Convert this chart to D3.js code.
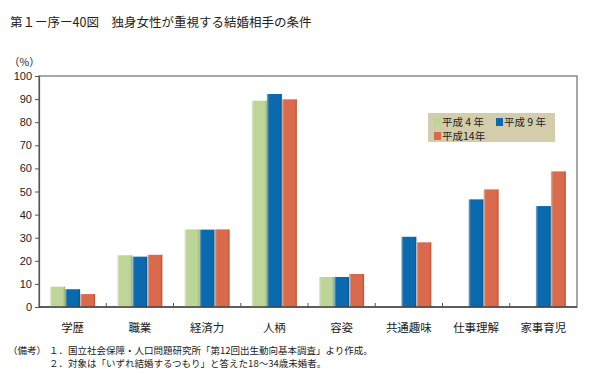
<!DOCTYPE html>
<html>
<head>
<meta charset="utf-8">
<script src="https://cdn.jsdelivr.net/npm/d3@7"></script>
<style>
body { margin: 0; background: #fff; }
text { font-family: "Noto Sans CJK JP", "Noto Sans", sans-serif; fill: #222; }
</style>
</head>
<body>
<div id="container"></div>
<script>
/* DATA */
const categories = ["学歴", "職業", "経済力", "人柄", "容姿", "共通趣味", "仕事理解", "家事育児"]
const seriesNames = ["平成 4 年", "平成 9 年", "平成14年"]
const h4 = [8.8, 22.4, 33.6, 89.3, 13.0, null, null, null]
const h9 = [7.7, 21.8, 33.5, 92.2, 13.0, 30.4, 46.6, 43.7]
const h14 = [5.6, 22.6, 33.6, 89.9, 14.3, 28.0, 50.9, 58.7]
const yTicks = [0, 10, 20, 30, 40, 50, 60, 70, 80, 90, 100]
const colors = ["#bdd597", "#0a6aad", "#d96b4c"]

/* CONSTANTS */
const width = 590, height = 375
const margin = { top: 76, bottom: 68, left: 39, right: 13 }

const svg = d3.select("#container")
  .append("svg")
  .attr("width", width)
  .attr("height", height)

// gradients so bars look a bit 3d
const defs = svg.append("defs")
colors.forEach((c, i) => {
  const g = defs.append("linearGradient")
    .attr("id", "grad" + i)
    .attr("x1", "0%").attr("x2", "100%")
  const base = d3.color(c)
  g.append("stop").attr("offset", "0%").attr("stop-color", d3.interpolateRgb(c, "#fff")(0.45))
  g.append("stop").attr("offset", "15%").attr("stop-color", c)
  g.append("stop").attr("offset", "85%").attr("stop-color", c)
  g.append("stop").attr("offset", "100%").attr("stop-color", base.darker(0.6))
})

// SCALES
const xScale = d3.scaleBand()
  .domain(categories)
  .range([margin.left, width - margin.right])

const xInner = d3.scaleBand()
  .domain([0, 1, 2])
  .range([0, 45])

const yScale = d3.scaleLinear()
  .domain([0, 100])
  .range([height - margin.bottom, margin.top])

// TITLE
svg.append("text")
  .attr("x", 10)
  .attr("y", 27)
  .style("font-size", "12.5px")
  .text("第１ー序ー40図　独身女性が重視する結婚相手の条件")

svg.append("text")
  .attr("x", 9)
  .attr("y", 66)
  .style("font-size", "10.5px")
  .text("（%）")

// FRAME
svg.append("rect")
  .attr("x", margin.left)
  .attr("y", margin.top)
  .attr("width", width - margin.left - margin.right)
  .attr("height", height - margin.top - margin.bottom)
  .attr("fill", "none")
  .attr("stroke", "#8a8a8a")
  .attr("stroke-width", 1.5)

// BARS
const series = [h4, h9, h14]
series.forEach((vals, si) => {
  svg.append("g")
    .selectAll("rect")
    .data(vals.map((v, i) => ({ cat: categories[i], v: v })).filter(d => d.v != null))
    .join("rect")
    .attr("x", d => xScale(d.cat) + (xScale.bandwidth() - 45) / 2 + xInner(si))
    .attr("width", xInner.bandwidth())
    .attr("y", d => yScale(d.v))
    .attr("height", d => yScale(0) - yScale(d.v))
    .attr("fill", "url(#grad" + si + ")")
})

// AXES
const yAxis = d3.axisLeft(yScale).tickValues(yTicks).tickSize(4).tickFormat(d3.format("d"))
const yAxisGroup = svg.append("g")
  .attr("transform", `translate(${margin.left}, 0)`)
  .call(yAxis)
yAxisGroup.select(".domain").attr("stroke", "#555").attr("stroke-width", 1.2)
yAxisGroup.selectAll(".tick line").attr("stroke", "#555")
yAxisGroup.selectAll(".tick text")
  .attr("x", -7)
  .style("font-family", "'Liberation Sans', Arial, sans-serif")
  .style("font-size", "11px")
  .attr("fill", "#222")

// bottom axis line with inward ticks at category boundaries
svg.append("line")
  .attr("x1", margin.left).attr("x2", width - margin.right)
  .attr("y1", yScale(0)).attr("y2", yScale(0))
  .attr("stroke", "#444").attr("stroke-width", 1.3)

svg.append("g")
  .selectAll("line")
  .data(categories.slice(1))
  .join("line")
  .attr("x1", d => xScale(d)).attr("x2", d => xScale(d))
  .attr("y1", yScale(0)).attr("y2", yScale(0) - 4)
  .attr("stroke", "#555")

svg.append("g")
  .selectAll("text")
  .data(categories)
  .join("text")
  .attr("x", d => xScale(d) + xScale.bandwidth() / 2)
  .attr("y", 332)
  .attr("text-anchor", "middle")
  .style("font-size", "11.5px")
  .text(d => d)

// LEGEND
const legend = svg.append("g").attr("transform", "translate(428, 113)")
legend.append("rect")
  .attr("width", 127).attr("height", 29)
  .attr("fill", "#d4cdab")
const legendPos = [[6, 3], [68, 3], [6, 17]]
seriesNames.forEach((name, i) => {
  const g = legend.append("g").attr("transform", `translate(${legendPos[i][0]}, ${legendPos[i][1]})`)
  g.append("rect").attr("width", 7).attr("height", 8).attr("y", 2).attr("fill", colors[i])
  g.append("text")
    .attr("x", 8).attr("y", 9.5)
    .style("font-size", "10.5px")
    .text(name)
})

// NOTES
const notes = [
  ["（備考）", "１．国立社会保障・人口問題研究所「第12回出生動向基本調査」より作成。"],
  ["", "２．対象は「いずれ結婚するつもり」と答えた18～34歳未婚者。"]
]
notes.forEach((n, i) => {
  svg.append("text")
    .attr("x", 8).attr("y", 354 + i * 13)
    .style("font-size", "9.5px")
    .text(n[0])
  svg.append("text")
    .attr("x", 49).attr("y", 354 + i * 13)
    .style("font-size", "9.5px")
    .text(n[1])
})
</script>
</body>
</html>
